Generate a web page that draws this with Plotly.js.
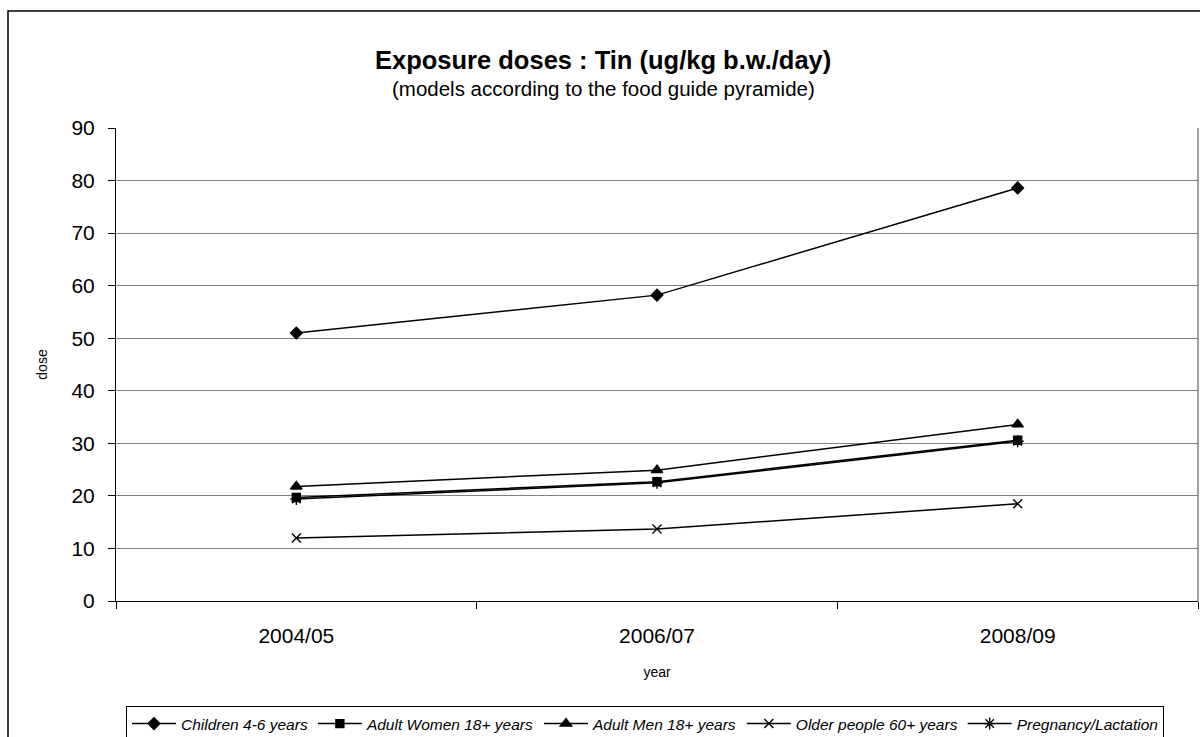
<!DOCTYPE html>
<html>
<head>
<meta charset="utf-8">
<script src="https://cdn.plot.ly/plotly-3.0.1.min.js"></script>
<style>html,body{margin:0;padding:0;background:#fff;}#chart{width:1200px;height:737px;}</style>
</head>
<body>
<div id="chart"></div>
<script>
const years = ["2004/05", "2006/07", "2008/09"];
const children = [51.0, 58.2, 78.6];
const women = [19.7, 22.7, 30.6];
const men = [21.8, 24.9, 33.6];
const older = [12.0, 13.7, 18.5];
const pregnancy = [19.4, 22.5, 30.4];
const seriesNames = ["Children 4-6 years", "Adult Women 18+ years", "Adult Men 18+ years", "Older people 60+ years", "Pregnancy/Lactation"];
const yTicks = [0, 10, 20, 30, 40, 50, 60, 70, 80, 90];

const symbols = ["diamond", "square", "triangle-up", "x-thin-open", "asterisk-open"];
const sizes = [9, 8, 10, 9, 10];
const data = [children, women, men, older, pregnancy].map((vals, i) => ({
  type: "scatter",
  mode: "lines+markers",
  x: years,
  y: vals,
  name: seriesNames[i],
  line: {color: "#000000", width: 1.5},
  marker: {symbol: symbols[i], size: sizes[i], color: "#000000", line: {color: "#000000", width: 1.4}},
  cliponaxis: false
}));

const L = 116, R = 1198, T = 128, B = 601;
const pw = R - L, ph = B - T;
const px = v => (v - L) / pw;
const py = v => (B - v) / ph;

const layout = {
  width: 1200, height: 737,
  margin: {l: L, r: 1200 - R, t: T, b: 737 - B, pad: 0, autoexpand: false},
  paper_bgcolor: "#ffffff",
  plot_bgcolor: "#ffffff",
  font: {family: "Liberation Sans, Arial, sans-serif", color: "#000000", size: 17},
  showlegend: true,
  xaxis: {
    type: "category",
    range: [-0.5, 2.5],
    showgrid: false,
    showline: true, linecolor: "#000000", linewidth: 1,
    ticks: "outside", tickson: "boundaries", ticklen: 7, tickcolor: "#000000",
    tickfont: {size: 21},
    ticklabelstandoff: 16,
    title: {text: "year", font: {size: 14}, standoff: 20},
    zeroline: false,
    fixedrange: true
  },
  yaxis: {
    range: [0, 90],
    tickvals: yTicks,
    ticktext: yTicks.map(String),
    showgrid: true, gridcolor: "#808080", gridwidth: 1,
    showline: true, linecolor: "#000000", linewidth: 1,
    ticks: "outside", ticklen: 7, tickcolor: "#000000",
    tickfont: {size: 21},
    ticklabelstandoff: 9,
    title: {text: "dose", font: {size: 14}, standoff: 20},
    zeroline: false,
    fixedrange: true
  },
  legend: {
    orientation: "h",
    x: px(126), y: py(706), xanchor: "left", yanchor: "top",
    bordercolor: "#000000", borderwidth: 1,
    bgcolor: "#ffffff",
    font: {size: 15.5, style: "italic"},
    itemwidth: 44,
    tracegroupgap: 0
  },
  shapes: [
    {type: "rect", xref: "paper", yref: "paper", x0: px(8), x1: px(1215), y0: py(11), y1: py(760), line: {color: "#000000", width: 1.5}, fillcolor: "rgba(0,0,0,0)", layer: "below"},
    {type: "line", xref: "paper", yref: "paper", x0: 1, x1: 1, y0: 0, y1: 1, line: {color: "#808080", width: 1.5}}
  ],
  annotations: [
    {text: "<b>Exposure doses : Tin (ug/kg b.w./day)</b>", xref: "paper", yref: "paper", x: px(603), y: py(60), xanchor: "center", yanchor: "middle", showarrow: false, font: {size: 25.5}},
    {text: "(models according to the food guide pyramide)", xref: "paper", yref: "paper", x: px(603), y: py(89), xanchor: "center", yanchor: "middle", showarrow: false, font: {size: 20.5}}
  ]
};

Plotly.newPlot("chart", data, layout, {staticPlot: true, displayModeBar: false});
</script>
</body>
</html>
